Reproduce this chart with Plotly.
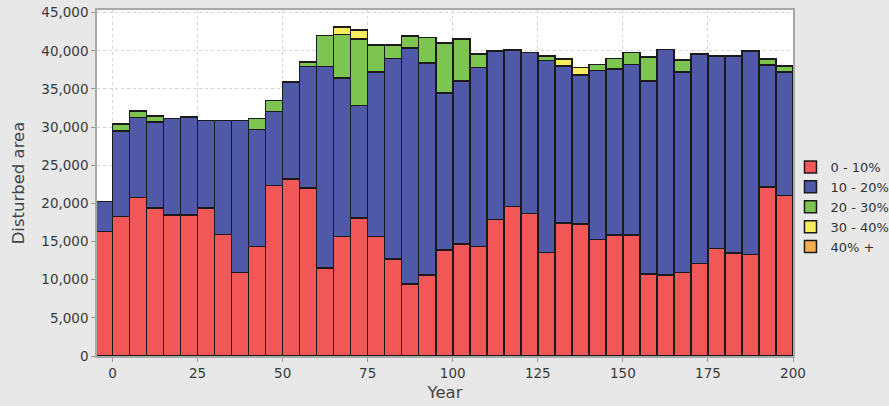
import plotly.graph_objects as go

# Year (bar right edge), one bar per 5-year interval
years = list(range(0, 205, 5))

# Disturbed area by damage class
dmg_0_10 = [16300, 18260, 20780, 19430, 18480, 18480, 19430, 15900, 10940, 14340,
            22350, 23190, 22010, 11550, 15680, 18090, 15680, 12730, 9410, 10590,
            13900, 14690, 14340, 17910, 19600, 18690, 13550, 17430, 17300, 15290,
            15860, 15860, 10770, 10590, 10940, 12120, 14120, 13510, 13330, 22180,
            21040]
dmg_10_20 = [3960, 11240, 10510, 11250, 12680, 12850, 11470, 15000, 19960, 15330,
             9670, 12710, 15940, 26400, 20750, 14770, 21530, 26270, 30940, 27840,
             20570, 21340, 23480, 22050, 20520, 21090, 25190, 20570, 19520, 22140,
             21740, 22350, 25260, 29580, 26310, 27480, 25220, 25830, 26630, 15980,
             16210]
dmg_20_30 = [0, 880, 820, 780, 0, 0, 0, 0, 0, 1440,
             1490, 0, 610, 4050, 5710, 8700, 3570, 1780, 1610, 3310,
             6530, 5490, 1780, 0, 0, 0, 600, 0, 0, 780,
             1400, 1570, 3140, 0, 1530, 0, 0, 0, 0, 790,
             740]
dmg_30_40 = [0, 0, 0, 0, 0, 0, 0, 0, 0, 0,
             0, 0, 0, 0, 990, 1140, 0, 0, 0, 0,
             0, 0, 0, 0, 0, 0, 0, 950, 1000, 0,
             0, 0, 0, 0, 0, 0, 0, 0, 0, 0,
             0]
dmg_40_plus = [0] * 41

series = [
    ("0 - 10%", dmg_0_10, "#F25757"),
    ("10 - 20%", dmg_10_20, "#5058A8"),
    ("20 - 30%", dmg_20_30, "#7DC451"),
    ("30 - 40%", dmg_30_40, "#F6EC5E"),
    ("40% +", dmg_40_plus, "#F5AE4F"),
]

fig = go.Figure()
for name, vals, col in series:
    fig.add_trace(go.Bar(
        x=years, y=vals, name=name, width=5, offset=-5,
        marker=dict(color=col, line=dict(color="#1a1a1a", width=1.5)),
    ))

font = "DejaVu Sans"
fig.update_layout(
    barmode="stack",
    width=889, height=406,
    margin=dict(l=97, r=96, t=10, b=50, autoexpand=False),
    paper_bgcolor="#e8e8e8",
    plot_bgcolor="#ffffff",
    font=dict(family=font, size=13.5, color="#3a3a3a"),
    legend=dict(x=0.9964, y=0.5896, xanchor="left", yanchor="top",
                traceorder="normal",
                bgcolor="rgba(0,0,0,0)", font=dict(size=13, color="#333333"),
                tracegroupgap=0, itemwidth=30),
    xaxis=dict(
        range=[-4.56, 200], tickmode="array", tickvals=list(range(0, 201, 25)),
        showgrid=True, gridcolor="#d4d4d4", griddash="3px,3px", gridwidth=1,
        showline=True, linecolor="#a8a8a8", linewidth=1.5, mirror=True,
        ticks="outside", ticklen=4, tickcolor="#999999",
        zeroline=False, automargin=False,
        title=dict(text="Year", font=dict(size=16.5, color="#444444"), standoff=6),
        tickfont=dict(color="#3a3a3a"),
    ),
    yaxis=dict(
        range=[0, 45350], tickmode="array", tickvals=list(range(0, 45001, 5000)),
        tickformat=",",
        showgrid=True, gridcolor="#d4d4d4", griddash="3px,3px", gridwidth=1,
        showline=True, linecolor="#a8a8a8", linewidth=1.5, mirror=True,
        ticks="outside", ticklen=4, tickcolor="#999999",
        zeroline=False, automargin=False,
        title=dict(text="Disturbed area", font=dict(size=16.5, color="#444444"), standoff=13),
        tickfont=dict(color="#3a3a3a"),
    ),
)

fig.write_html(
    "out.html",
    config={"displayModeBar": False},
    post_script="document.body.style.margin='0';document.body.style.background='#e8e8e8';",
)
